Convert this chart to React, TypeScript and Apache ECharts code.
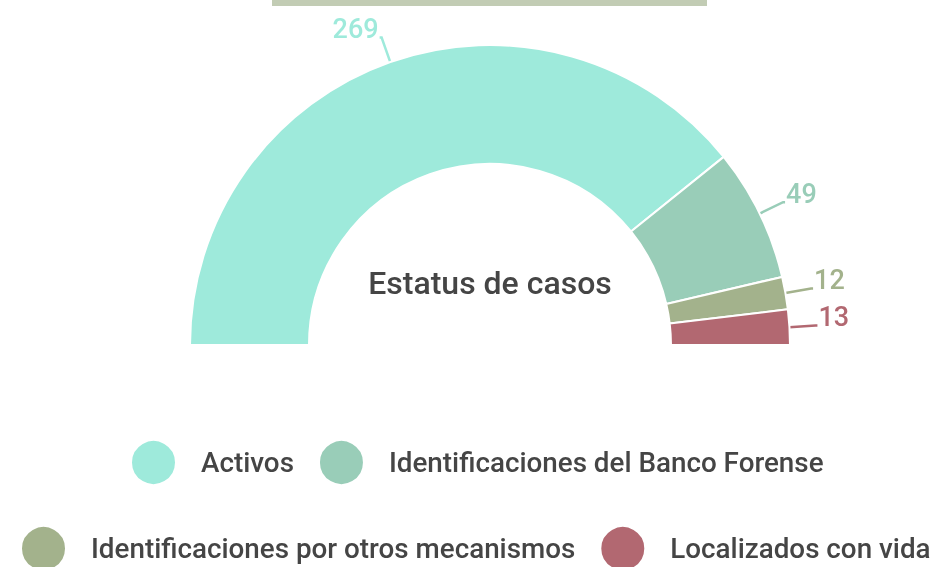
import React, { useEffect, useRef } from "react";
import * as echarts from "echarts";

const categories = [
  "Activos",
  "Identificaciones del Banco Forense",
  "Identificaciones por otros mecanismos",
  "Localizados con vida",
];
const values = [269, 49, 12, 13];
const colors = ["#9EEADB", "#99CDB8", "#A3B28C", "#B26871"];
const centerTitle = "Estatus de casos";

export default function App() {
  const ref = useRef<HTMLDivElement>(null);
  useEffect(() => {
    if (!ref.current) return;
    const chart = echarts.init(ref.current, undefined, { renderer: "svg" });
    const font = "Roboto";
    const legendText = {
      fontSize: 27.8,
      fontWeight: 500,
      color: "#454545",
      fontFamily: font,
      padding: [0, 0, 0, 20],
    };
    chart.setOption({
      animation: false,
      color: colors,
      textStyle: { fontFamily: font },
      graphic: [
        {
          type: "rect",
          shape: { x: 272, y: 0, width: 435, height: 6 },
          style: { fill: "#C2CCB4" },
        },
        {
          type: "text",
          x: 490,
          y: 283,
          style: {
            text: centerTitle,
            fontFamily: font,
            fontSize: 32,
            fontWeight: 500,
            fill: "#454545",
            align: "center",
            verticalAlign: "middle",
          },
        },
      ],
      legend: [
        {
          data: categories.slice(0, 2),
          left: 125,
          top: 434,
          width: 900,
          icon: "circle",
          itemWidth: 45,
          itemHeight: 45,
          itemGap: 24,
          textStyle: legendText,
        },
        {
          data: categories.slice(2, 4),
          left: 15,
          top: 520,
          width: 921,
          icon: "circle",
          itemWidth: 45,
          itemHeight: 45,
          itemGap: 24,
          textStyle: legendText,
        },
      ],
      series: [
        {
          type: "pie",
          center: [490, 345],
          radius: [181, 300],
          startAngle: 180,
          endAngle: 0,
          avoidLabelOverlap: false,
          labelLayout: { hideOverlap: false },
          itemStyle: { borderColor: "#ffffff", borderWidth: 2 },
          label: {
            show: true,
            formatter: (p: any) => p.value + "\n ",
            fontSize: 27,
            lineHeight: 17,
            fontWeight: 500,
            fontFamily: font,
            distanceToLabelLine: 1,
          },
          labelLine: { show: true, length: 26, length2: 2, lineStyle: { width: 2.5 } },
          data: categories.map((name, i) => ({
            name,
            value: values[i],
            label: { color: colors[i] },
          })),
        },
      ],
    });
    return () => chart.dispose();
  }, []);
  return (
    <div
      ref={ref}
      style={{ position: "fixed", left: 0, top: 0, width: 936, height: 567 }}
    />
  );
}
